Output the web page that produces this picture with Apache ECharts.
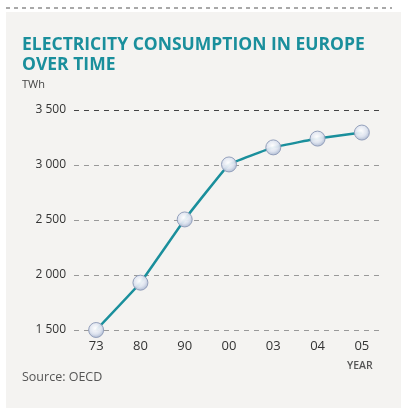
<!DOCTYPE html>
<html>
<head>
<meta charset="utf-8">
<script src="https://cdn.jsdelivr.net/npm/echarts@6/dist/echarts.min.js"></script>
<style>
  html, body { margin: 0; padding: 0; background: #fff; }
  #chart { width: 401px; height: 412px; }
</style>
</head>
<body>
<div id="chart"></div>
<script>
const years = ['73', '80', '90', '00', '03', '04', '05'];
const consumption = [1500, 1930, 2505, 3005, 3160, 3240, 3295];
const yTicks = [1500, 2000, 2500, 3000, 3500];

const teal = '#1a8f9c';
const chart = echarts.init(document.getElementById('chart'));

const option = {
  backgroundColor: '#ffffff',
  animation: false,
  graphic: [
    { type: 'rect', left: 6, top: 12, shape: { width: 395, height: 396 }, style: { fill: '#f4f3f1' }, z: -10 },
    { type: 'line', shape: { x1: 6, y1: 8, x2: 392, y2: 8 }, style: { stroke: '#555', lineWidth: 1, lineDash: [4, 4] } },
    { type: 'text', left: 22, top: 35, style: { text: 'ELECTRICITY CONSUMPTION IN EUROPE\nOVER TIME', fill: teal, font: 'bold 17.5px "Open Sans"', lineHeight: 20 } },
    { type: 'text', left: 22, top: 79, style: { text: 'TWh', fill: '#444', font: '11px "Open Sans"' } },
    { type: 'text', left: 22, top: 371, style: { text: 'Source: OECD', fill: '#555', font: '12.5px "Open Sans"' } },
    { type: 'text', left: 347, top: 361, style: { text: 'YEAR', fill: '#555', font: '600 10.5px "Open Sans"' } }
  ],
  grid: { left: 74, right: 17, top: 110, bottom: 82 },
  xAxis: {
    type: 'category',
    data: years,
    boundaryGap: true,
    axisLine: { show: false },
    axisTick: { show: false },
    axisLabel: { color: '#333', fontSize: 13, fontFamily: 'Open Sans', margin: 10 }
  },
  yAxis: {
    type: 'value',
    min: 1500,
    max: 3500,
    interval: 500,
    axisLine: { show: false },
    axisTick: { show: false },
    axisLabel: {
      color: '#333', fontSize: 12, fontFamily: 'Open Sans', margin: 8,
      formatter: v => yTicks.includes(v) ? String(v).replace(/(\d)(\d{3})$/, '$1 $2') : ''
    },
    splitLine: { lineStyle: { color: ['#999', '#999', '#999', '#999', '#444'], type: [5, 5], width: 1 } }
  },
  series: [{
    type: 'line',
    data: consumption,
    smooth: 0.06,
    lineStyle: { color: teal, width: 2.5 },
    symbol: 'circle',
    symbolSize: 15,
    itemStyle: {
      color: {
        type: 'radial', x: 0.45, y: 0.4, r: 0.6,
        colorStops: [
          { offset: 0, color: '#ffffff' },
          { offset: 0.6, color: '#dde3ef' },
          { offset: 1, color: '#a9b6cf' }
        ]
      },
      borderColor: '#8f9cb8',
      borderWidth: 1,
      opacity: 0.95
    }
  }]
};

chart.setOption(option);
</script>
</body>
</html>
